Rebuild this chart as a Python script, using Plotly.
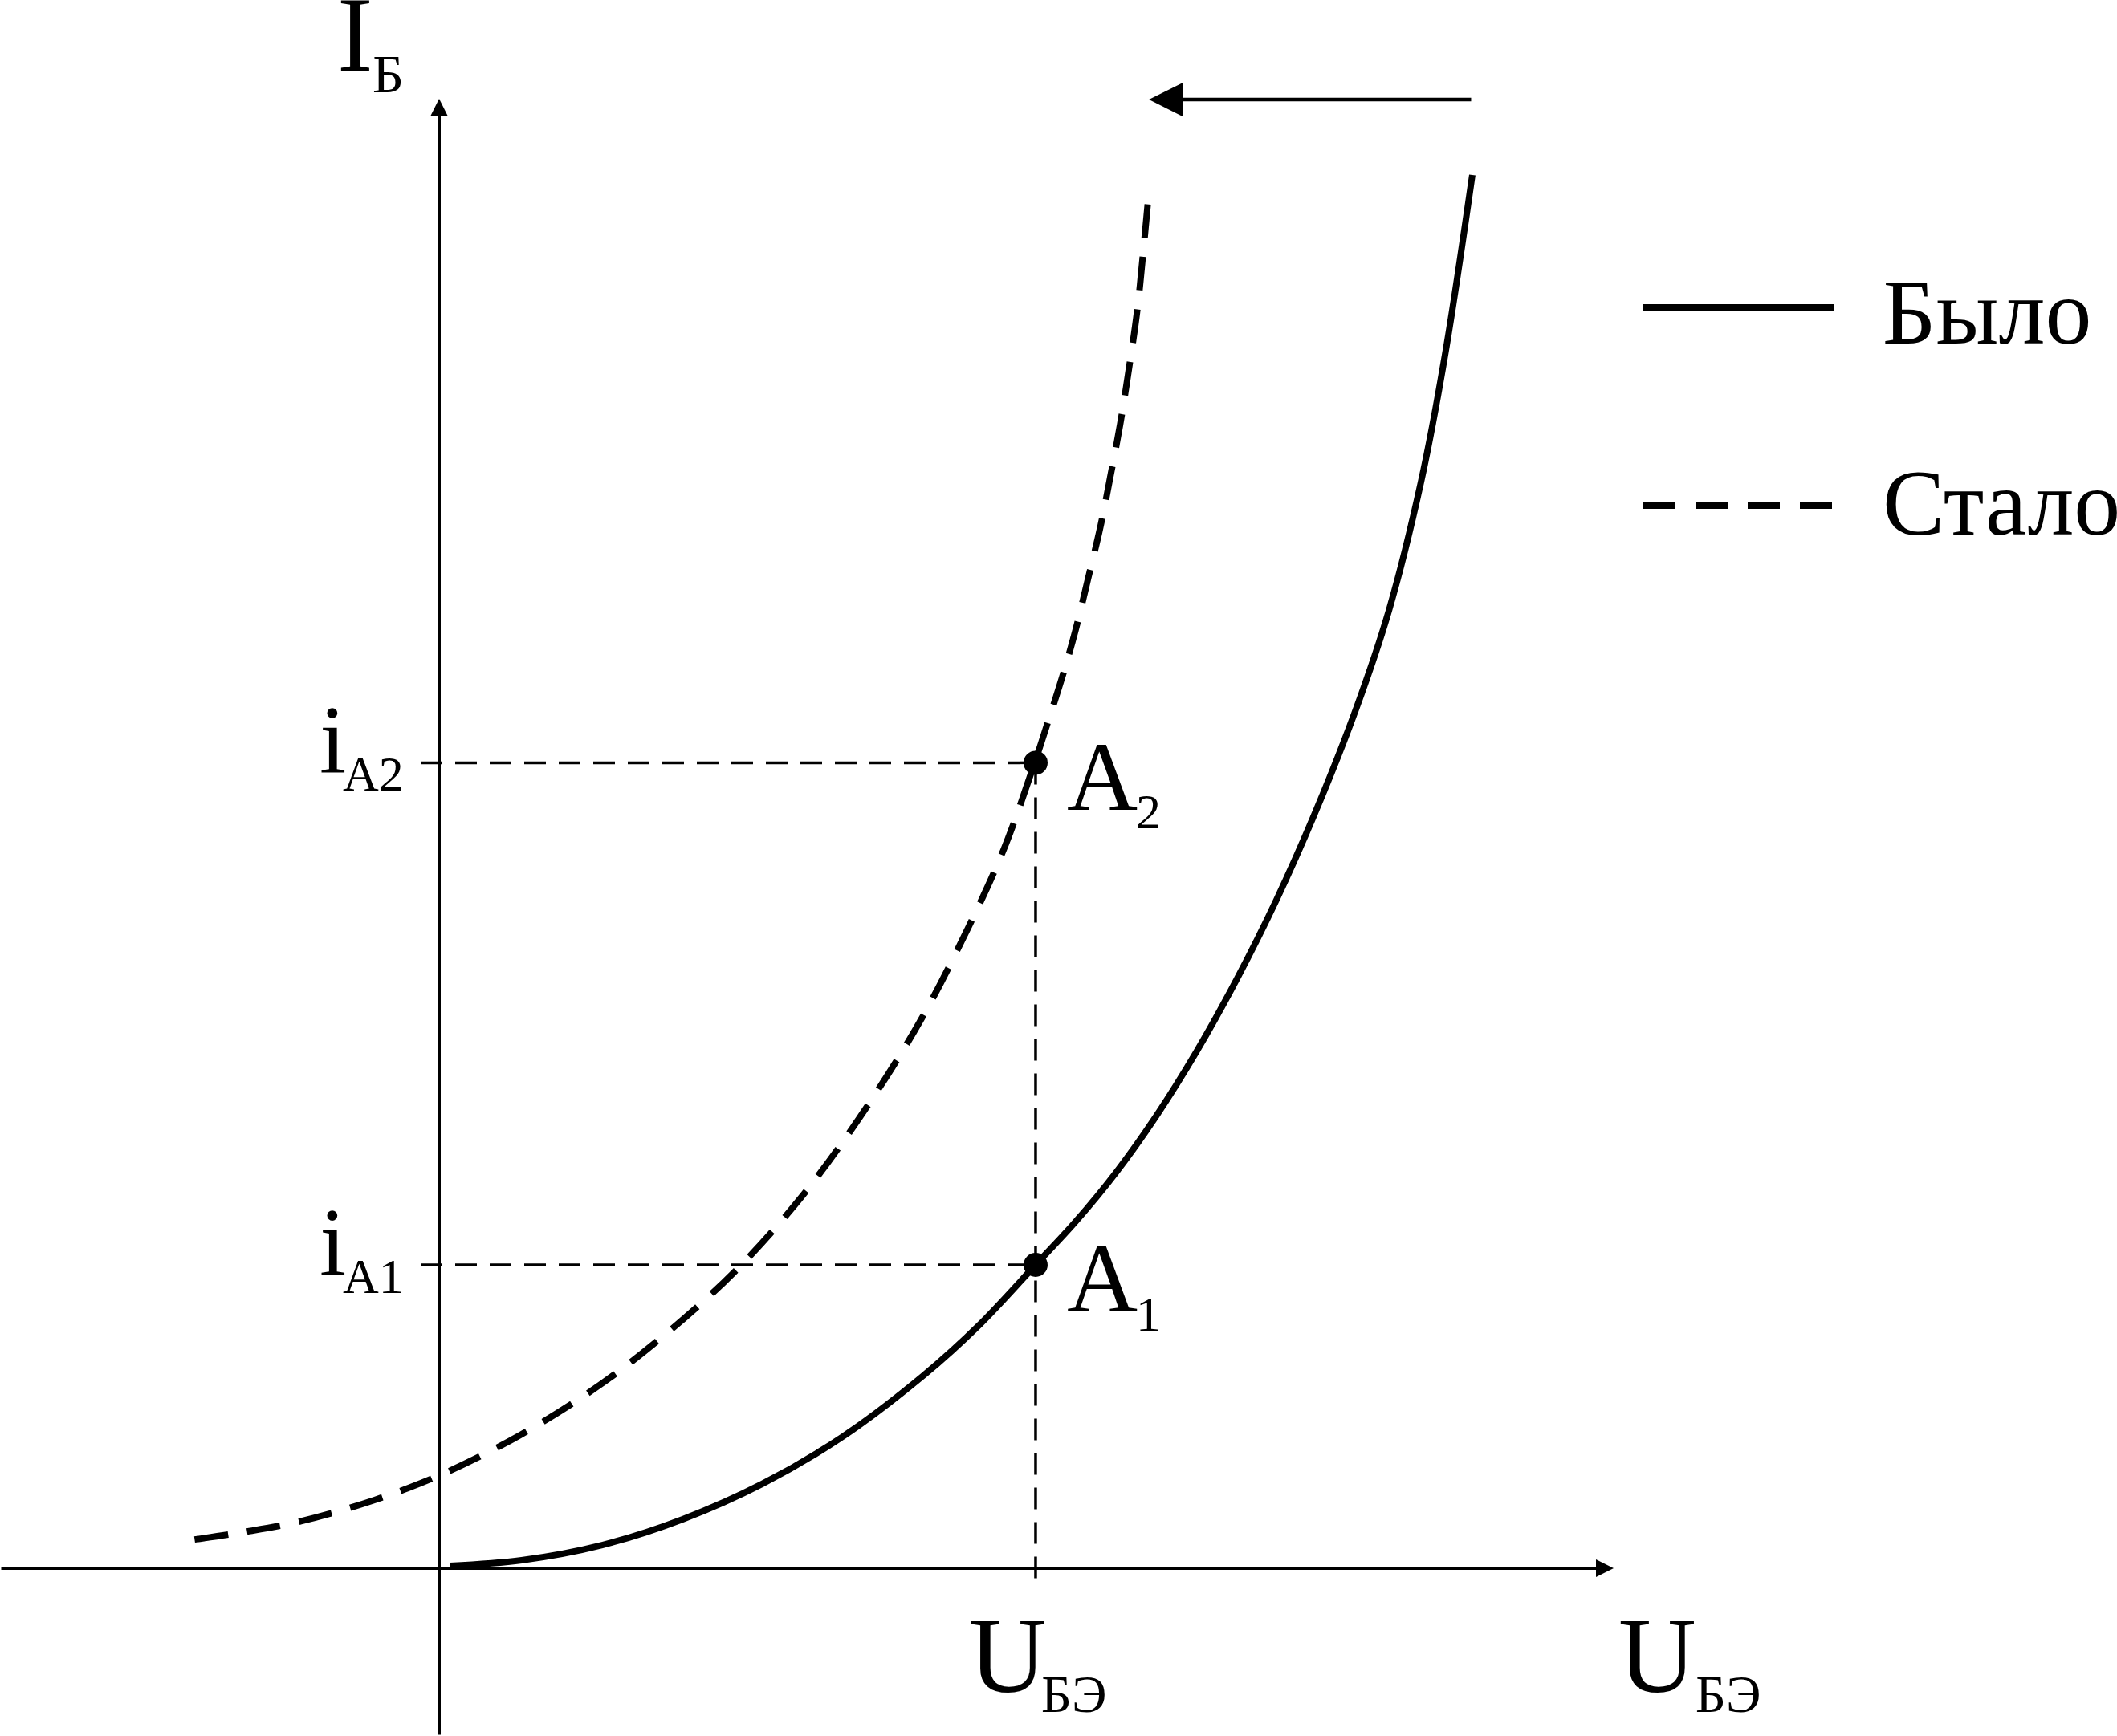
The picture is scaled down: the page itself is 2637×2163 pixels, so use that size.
import plotly.graph_objects as go

# ---------------- data (U in mV, I in µA, schematic units) ----------------
solid_u = [11, 83, 164, 245, 325, 406, 487, 544, 600, 640.4, 680.8, 721.1, 761.5, 801.9, 842.3,
           882.7, 923.0, 955.3, 987.6, 1011.9, 1039.3]
solid_i = [0.16, 0.53, 1.53, 3.23, 5.56, 8.68, 12.70, 16.08, 20.0, 22.86, 26.08, 29.79, 34.02, 38.78, 44.07,
           50.05, 56.77, 63.12, 71.59, 80.00, 91.85]

dashed_u = [-246, -195, -139, -65, 3, 82, 162, 229, 298, 366, 428, 485, 532, 568, 598,
            611, 627, 640, 653, 665, 675, 685, 693, 702, 708, 714]
dashed_i = [1.9, 2.4, 3.1, 4.5, 6.2, 8.8, 12.1, 15.5, 19.6, 24.6, 30.2, 36.2, 42.2, 47.4, 52.9,
            55.5, 58.8, 61.8, 65.3, 68.6, 71.9, 75.4, 78.7, 82.8, 86.6, 90.8]

U_A = 600          # operating voltage
i_A1 = 20.0        # base current, "Было"
i_A2 = 53.1        # base current, "Стало"
legend_names = ["Было", "Стало"]

# ---------------- layout geometry ----------------
W, H = 2637, 2163
ORIGIN_PX = (547, 1954)      # pixel position of axes origin
PX_PER_U = 1.2383
PX_PER_I = 18.9
X0 = -ORIGIN_PX[0] / PX_PER_U
X1 = X0 + W / PX_PER_U
Y1 = ORIGIN_PX[1] / PX_PER_I
Y0 = Y1 - H / PX_PER_I

FONT = "Liberation Serif"


def xpx(u):
    return ORIGIN_PX[0] + u * PX_PER_U


def ypx(i):
    return ORIGIN_PX[1] - i * PX_PER_I


def xd(px):
    return (px - ORIGIN_PX[0]) / PX_PER_U


def yd(py):
    return (ORIGIN_PX[1] - py) / PX_PER_I


def label(text, left_px, base_px, size):
    return dict(text=text, x=left_px / W, y=1 - (base_px - 0.3375 * size) / H,
                xref="paper", yref="paper", xanchor="left", yanchor="middle",
                showarrow=False, font=dict(family=FONT, size=size, color="black"))


fig = go.Figure()

guide = dict(color="black", width=3.5, dash="27px,16px")
x_tick = xd(ORIGIN_PX[0] - 23)
# horizontal guides
fig.add_trace(go.Scatter(x=[x_tick, U_A], y=[i_A2, i_A2], mode="lines", line=guide, hoverinfo="skip"))
fig.add_trace(go.Scatter(x=[x_tick, U_A], y=[i_A1, i_A1], mode="lines", line=guide, hoverinfo="skip"))
# vertical guide
fig.add_trace(go.Scatter(x=[U_A, U_A], y=[i_A2, yd(ORIGIN_PX[1] + 17)], mode="lines", line=guide, hoverinfo="skip"))

# curves
fig.add_trace(go.Scatter(x=solid_u, y=solid_i, mode="lines", name=legend_names[0],
                         line=dict(color="black", width=8, shape="spline", smoothing=1.0)))
fig.add_trace(go.Scatter(x=dashed_u, y=dashed_i, mode="lines", name=legend_names[1],
                         line=dict(color="black", width=8, dash="42px,24px", shape="spline", smoothing=1.0)))

# operating points
fig.add_trace(go.Scatter(x=[U_A, U_A], y=[i_A1, i_A2], mode="markers",
                         marker=dict(color="black", size=30)))

annotations = []
# axes with arrowheads
annotations.append(dict(x=0, y=yd(123), ax=0, ay=Y0, xref="x", yref="y", axref="x", ayref="y",
                        text="", showarrow=True, arrowhead=2, arrowsize=1.1, arrowwidth=4, arrowcolor="black"))
annotations.append(dict(x=xd(2010), y=0, ax=X0, ay=0, xref="x", yref="y", axref="x", ayref="y",
                        text="", showarrow=True, arrowhead=2, arrowsize=1.1, arrowwidth=4, arrowcolor="black"))
# shift arrow
arrow_y = yd(124)
annotations.append(dict(x=dashed_u[-1], y=arrow_y, ax=solid_u[-1], ay=arrow_y, xref="x", yref="y",
                        axref="x", ayref="y", text="", showarrow=True, arrowhead=2, arrowsize=1.9,
                        arrowwidth=4.5, arrowcolor="black"))

# axis labels
annotations.append(label("I", 418, 88, 134))
annotations.append(label("Б", 462, 115, 68))
ax_px = ORIGIN_PX[1]
ua_px = xpx(U_A)
annotations.append(label("U", ua_px - 85, ax_px + 154, 134))
annotations.append(label("БЭ", ua_px + 5, ax_px + 179, 66))
annotations.append(label("U", 2014, ax_px + 154, 134))
annotations.append(label("БЭ", 2110, ax_px + 179, 66))

# current tick labels
for name, cur in (("A2", i_A2), ("A1", i_A1)):
    yl = ypx(cur)
    annotations.append(label("i", 396, yl + 12, 120))
    annotations.append(label(name, 425, yl + 35, 62))

# point labels
for sub, cur in (("2", i_A2), ("1", i_A1)):
    yl = ypx(cur)
    annotations.append(label("A", ua_px + 37, yl + 58, 122))
    annotations.append(label(sub, ua_px + 123, yl + 82, 62))

# legend
annotations.append(label(legend_names[0], 2343, 428, 116))
annotations.append(label(legend_names[1], 2343, 666, 116))

shapes = [
    dict(type="line", xref="paper", yref="paper", x0=2047 / W, x1=2284 / W, y0=1 - 383 / H, y1=1 - 383 / H,
         line=dict(color="black", width=8)),
    dict(type="line", xref="paper", yref="paper", x0=2047 / W, x1=2284 / W, y0=1 - 630 / H, y1=1 - 630 / H,
         line=dict(color="black", width=8, dash="40px,25px")),
]

fig.update_layout(
    width=W, height=H, autosize=False,
    margin=dict(l=0, r=0, t=0, b=0, pad=0),
    paper_bgcolor="white", plot_bgcolor="white",
    showlegend=False,
    xaxis=dict(range=[X0, X1], visible=False, fixedrange=True),
    yaxis=dict(range=[Y0, Y1], visible=False, fixedrange=True),
    annotations=annotations,
    shapes=shapes,
)

fig.write_html("out.html", config={"displayModeBar": False},
               post_script="document.body.style.margin='0';document.body.style.overflow='hidden';")
